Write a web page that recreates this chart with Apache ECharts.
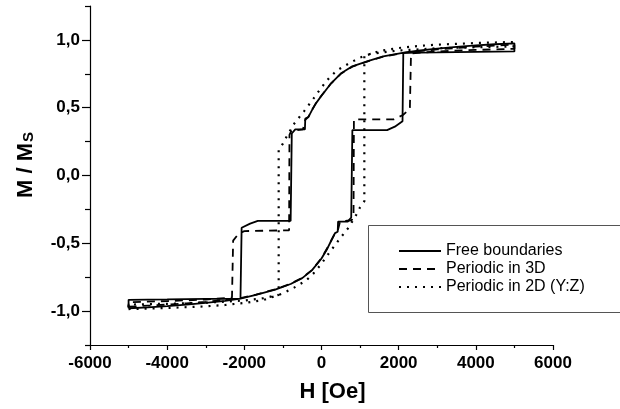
<!DOCTYPE html>
<html>
<head>
<meta charset="utf-8">
<script src="https://cdn.jsdelivr.net/npm/echarts@6/dist/echarts.min.js"></script>
<style>html,body{margin:0;padding:0;background:#fff}#c{width:620px;height:409px}</style>
</head>
<body>
<div id="c"></div>
<script>
// ---- data (H in Oe, M/Ms) ----
const seriesNames = ['Free boundaries', 'Periodic in 3D', 'Periodic in 2D (Y:Z)'];

const freeH = [-5000,-4500,-4000,-3500,-3000,-2500,-2100,-1700,-1200,-800,-500,-250,0,150,270,350,420,430,680,770,800,1700,1900,2100,2120,3000,4000,5000,
               5000,4500,4000,3500,3000,2500,2100,1600,1200,800,500,250,0,-150,-250,-340,-420,-430,-680,-770,-800,-1650,-1850,-2070,-2100,-3000,-4000,-5000,-5000];
const freeM = [-0.979,-0.972,-0.963,-0.952,-0.940,-0.925,-0.908,-0.880,-0.842,-0.800,-0.757,-0.700,-0.612,-0.540,-0.470,-0.425,-0.415,-0.340,-0.340,-0.310,0.335,0.335,0.360,0.400,0.905,0.908,0.912,0.915,
               0.975,0.968,0.960,0.948,0.935,0.920,0.905,0.878,0.843,0.805,0.752,0.680,0.588,0.530,0.480,0.430,0.420,0.340,0.340,0.310,-0.335,-0.335,-0.355,-0.385,-0.908,-0.910,-0.914,-0.917,-0.979];

const per3H = [-5000,-4500,-4000,-3500,-3000,-2500,-2100,-1700,-1200,-800,-500,-250,0,150,250,340,420,480,780,830,840,1870,2110,2290,2320,3000,4000,5000,
               5000,4500,4000,3500,3000,2500,2100,1600,1200,800,500,250,0,-150,-250,-340,-420,-480,-780,-830,-840,-2000,-2150,-2290,-2320,-3000,-4000,-5000,-5000];
const per3M = [-0.968,-0.960,-0.952,-0.943,-0.932,-0.918,-0.904,-0.878,-0.840,-0.798,-0.755,-0.698,-0.610,-0.535,-0.480,-0.432,-0.410,-0.340,-0.330,-0.300,0.414,0.414,0.446,0.490,0.900,0.915,0.926,0.934,
               0.965,0.958,0.950,0.940,0.930,0.917,0.903,0.876,0.842,0.803,0.750,0.680,0.590,0.530,0.482,0.432,0.410,0.340,0.330,0.300,-0.404,-0.410,-0.430,-0.480,-0.900,-0.915,-0.926,-0.934,-0.968];

const per2H = [-5000,-4000,-3000,-2500,-2000,-1500,-1000,-700,-400,-200,0,200,450,700,900,1000,1110,1110,1500,2000,3000,4000,5000,
               5000,4000,3000,2500,2000,1500,1000,700,400,200,0,-200,-450,-700,-900,-1000,-1110,-1110,-1500,-2000,-3000,-4000,-5000,-5000];
const per2M = [-0.985,-0.977,-0.965,-0.955,-0.940,-0.918,-0.870,-0.825,-0.775,-0.720,-0.650,-0.570,-0.475,-0.385,-0.290,-0.235,-0.190,0.890,0.905,0.922,0.938,0.946,0.952,
               0.985,0.977,0.965,0.955,0.940,0.918,0.870,0.825,0.775,0.720,0.650,0.570,0.475,0.385,0.290,0.235,0.190,-0.880,-0.905,-0.922,-0.938,-0.946,-0.952,-0.985];

const xTicks = [-6000,-4000,-2000,0,2000,4000,6000];
const yTickLabels = [-1.0,-0.5,0.0,0.5,1.0];
const yMinorTicks = [-1.25,-0.75,-0.25,0.25,0.75,1.25];

function zip(a, b) { return a.map((v, i) => [v, b[i]]); }

const chart = echarts.init(document.getElementById('c'), null, {renderer: 'canvas'});
const FONT = 'Liberation Sans, Arial, sans-serif';
const lineBase = {color: '#000', width: 1.8};

chart.setOption({
  animation: false,
  backgroundColor: '#fff',
  grid: {left: 90, right: 67, top: 6, bottom: 64, containLabel: false},
  xAxis: {
    type: 'value', min: -6000, max: 6000, interval: 2000,
    axisLine: {onZero: false, lineStyle: {color: '#000', width: 1.2}},
    axisTick: {length: 5, lineStyle: {color: '#000', width: 1.2}},
    minorTick: {show: true, splitNumber: 2, length: 3, lineStyle: {color: '#000', width: 1.2}},
    splitLine: {show: false},
    axisLabel: {fontSize: 17, fontWeight: 'bold', color: '#000', fontFamily: FONT, margin: 10,
      customValues: xTicks, formatter: v => String(v)},
    name: 'H [Oe]', nameLocation: 'middle', nameGap: 36,
    nameTextStyle: {fontSize: 22, fontWeight: 'bold', color: '#000', fontFamily: FONT, padding: [0, 0, 0, 22]}
  },
  yAxis: [{
    type: 'value', min: -1.25, max: 1.25, interval: 0.25,
    axisLine: {show: true, onZero: false, lineStyle: {color: '#000', width: 1.2}},
    axisTick: {show: true, length: 8, customValues: yTickLabels, lineStyle: {color: '#000', width: 1.2}},
    splitLine: {show: false},
    axisLabel: {fontSize: 17, fontWeight: 'bold', color: '#000', fontFamily: FONT, margin: 10,
      customValues: yTickLabels,
      formatter: v => v.toFixed(1).replace('.', ',')}
  }, {
    type: 'value', min: -1.25, max: 1.25, interval: 0.25, position: 'left',
    axisLine: {show: false, onZero: false},
    axisTick: {show: true, length: 5, customValues: yMinorTicks, lineStyle: {color: '#000', width: 1.2}},
    axisLabel: {show: false},
    splitLine: {show: false}
  }],
  legend: {
    orient: 'vertical', left: 393, top: 238, itemWidth: 42, itemHeight: 14, itemGap: 2,
    data: seriesNames, z: 10,
    itemStyle: {opacity: 0},
    textStyle: {fontSize: 16, color: '#000', fontFamily: FONT}
  },
  graphic: [
    {type: 'rect', z: 1, shape: {x: 368.5, y: 225.5, width: 260, height: 87},
      style: {fill: '#fff', stroke: '#555', lineWidth: 1}},
    {type: 'text', x: 25.5, y: 165, rotation: Math.PI / 2,
      style: {text: '{m|M / M}{s|S}', align: 'center', verticalAlign: 'middle', fill: '#000',
        rich: {
          m: {fontSize: 22, fontWeight: 'bold', fontFamily: FONT, lineHeight: 22, verticalAlign: 'top', fill: '#000'},
          s: {fontSize: 15, fontWeight: 'bold', fontFamily: FONT, lineHeight: 15, verticalAlign: 'bottom', padding: [14, 0, 0, 1], fill: '#000'}
        }}}
  ],
  series: [
    {name: seriesNames[0], type: 'line', data: zip(freeH, freeM), symbol: 'none', showSymbol: false,
      itemStyle: {color: '#000'}, lineStyle: Object.assign({}, lineBase, {type: 'solid'})},
    {name: seriesNames[1], type: 'line', data: zip(per3H, per3M), symbol: 'none', showSymbol: false,
      itemStyle: {color: '#000'}, lineStyle: Object.assign({}, lineBase, {type: [8, 6]})},
    {name: seriesNames[2], type: 'line', data: zip(per2H, per2M), symbol: 'none', showSymbol: false,
      itemStyle: {color: '#000'}, lineStyle: Object.assign({}, lineBase, {width: 2.2, type: [2, 6]})}
  ]
});
</script>
</body>
</html>
